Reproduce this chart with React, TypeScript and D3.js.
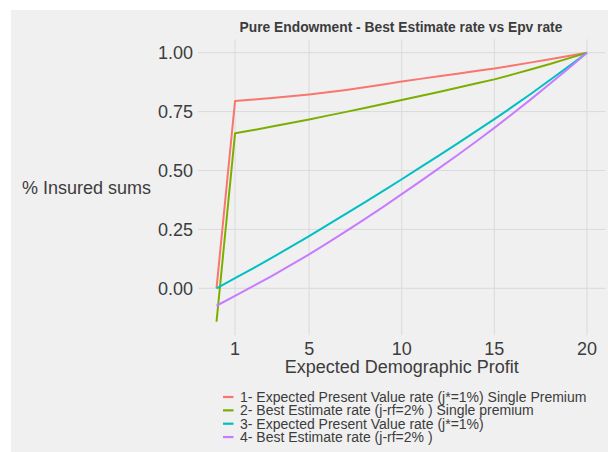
import React from "react";
import * as d3 from "d3";

const xValues = [0, 1, 2, 3, 4, 5, 6, 7, 8, 9, 10, 11, 12, 13, 14, 15, 16, 17, 18, 19, 20];
const epvSingle = [0.0, 0.795, 0.801, 0.808, 0.815, 0.823, 0.832, 0.842, 0.853, 0.865, 0.878, 0.889, 0.9, 0.911, 0.922, 0.933, 0.946, 0.959, 0.972, 0.986, 1.0];
const beSingle = [-0.142, 0.658, 0.672, 0.687, 0.702, 0.717, 0.733, 0.749, 0.765, 0.782, 0.799, 0.816, 0.833, 0.851, 0.869, 0.887, 0.908, 0.93, 0.952, 0.976, 1.0];
const epvRate = [0.0, 0.043, 0.086, 0.13, 0.176, 0.222, 0.269, 0.317, 0.365, 0.414, 0.463, 0.513, 0.563, 0.614, 0.666, 0.718, 0.772, 0.827, 0.884, 0.941, 1.0];
const beRate = [-0.074, -0.032, 0.01, 0.053, 0.098, 0.144, 0.193, 0.243, 0.294, 0.346, 0.4, 0.454, 0.509, 0.565, 0.622, 0.681, 0.742, 0.804, 0.868, 0.933, 1.0];

const seriesNames = [
  "1- Expected Present Value rate (j*=1%) Single Premium",
  "2- Best Estimate rate (j-rf=2% ) Single premium",
  "3- Expected Present Value rate (j*=1%)",
  "4- Best Estimate rate (j-rf=2% )",
];
const seriesValues = [epvSingle, beSingle, epvRate, beRate];
const seriesColors = ["#F8766D", "#7CAE00", "#00BFC4", "#C77CFF"];

const xTicks = [1, 5, 10, 15, 20];
const yTicks = [0, 0.25, 0.5, 0.75, 1.0];
const yTickLabels = ["0.00", "0.25", "0.50", "0.75", "1.00"];

const title = "Pure Endowment - Best Estimate rate vs Epv rate";
const xTitle = "Expected Demographic Profit";
const yTitle = "% Insured sums";

export default function App() {
  const W = 608;
  const H = 452;
  const panel = { left: 198, right: 605.5, top: 39.3, bottom: 335.2 };
  const x = d3.scaleLinear().domain([-1, 21]).range([panel.left, panel.right]);
  const y = d3.scaleLinear().domain([-0.199, 1.057]).range([panel.bottom, panel.top]);
  const line = d3
    .line<[number, number]>()
    .x((d) => x(d[0]))
    .y((d) => y(d[1]));
  const font = "'Liberation Sans', Arial, Helvetica, sans-serif";
  const textColor = "#3C3C3C";
  const gridColor = "#DADADA";

  return (
    <svg
      width={W}
      height={H}
      style={{ position: "absolute", left: 0, top: 0, display: "block" }}
      fontFamily={font}
    >
      <rect x={0} y={0} width={W} height={H} fill="#FFFFFF" />
      <rect x={11} y={10} width={W - 11} height={H - 10} fill="#F0F0F0" />

      {/* grid */}
      {yTicks.map((t) => (
        <line key={"gy" + t} x1={panel.left} x2={panel.right} y1={y(t)} y2={y(t)} stroke={gridColor} strokeWidth={1} />
      ))}
      {xTicks.map((t) => (
        <line key={"gx" + t} x1={x(t)} x2={x(t)} y1={panel.top} y2={panel.bottom} stroke={gridColor} strokeWidth={1} />
      ))}

      {/* lines */}
      {seriesValues.map((vals, i) => (
        <path
          key={"s" + i}
          d={line(xValues.map((xv, j) => [xv, vals[j]] as [number, number])) || ""}
          fill="none"
          stroke={seriesColors[i]}
          strokeWidth={2}
          strokeLinejoin="round"
        />
      ))}

      {/* y tick labels */}
      {yTicks.map((t, i) => (
        <text key={"yl" + t} x={193} y={y(t)} dy="0.35em" textAnchor="end" fontSize={18} fill={textColor}>
          {yTickLabels[i]}
        </text>
      ))}
      {/* x tick labels */}
      {xTicks.map((t) => (
        <text key={"xl" + t} x={x(t)} y={355} textAnchor="middle" fontSize={18} fill={textColor}>
          {t}
        </text>
      ))}

      {/* titles */}
      <text x={401} y={31.5} textAnchor="middle" fontSize={13.8} fontWeight="bold" fill={textColor}>
        {title}
      </text>
      <text x={(panel.left + panel.right) / 2} y={372.5} textAnchor="middle" fontSize={18} fill={textColor}>
        {xTitle}
      </text>
      <text x={22} y={(panel.top + panel.bottom) / 2} dy="0.35em" textAnchor="start" fontSize={18} fill={textColor}>
        {yTitle}
      </text>

      {/* legend */}
      {seriesNames.map((name, i) => {
        const cy = 397 + i * 13.35;
        return (
          <g key={"lg" + i}>
            <line x1={223} x2={233.5} y1={cy} y2={cy} stroke={seriesColors[i]} strokeWidth={2.2} />
            <text x={240} y={cy} dy="0.36em" fontSize={14} fill={textColor}>
              {name}
            </text>
          </g>
        );
      })}
    </svg>
  );
}
